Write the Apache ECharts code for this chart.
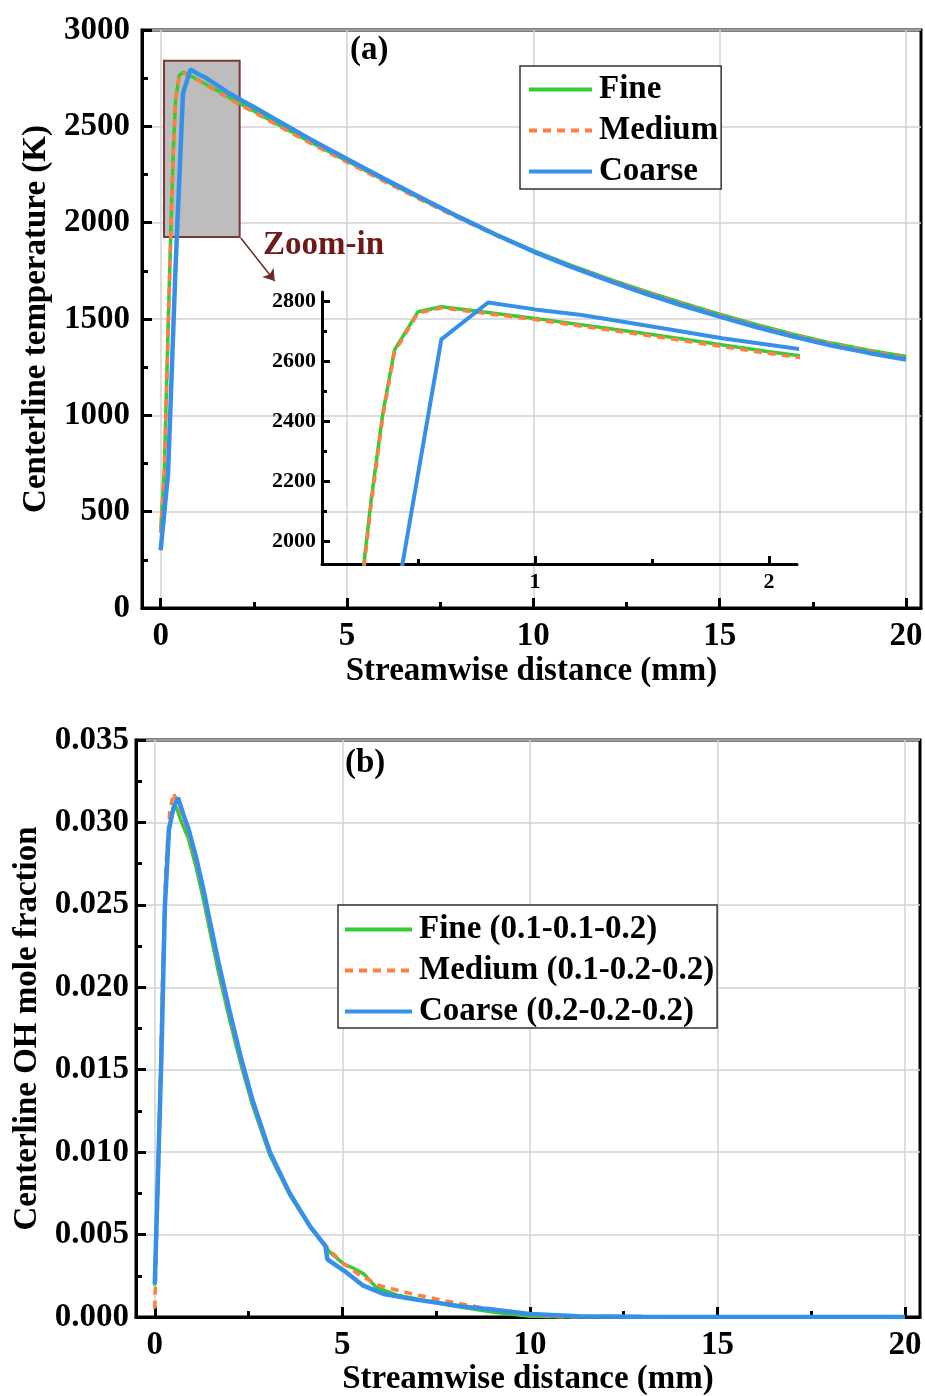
<!DOCTYPE html>
<html><head><meta charset="utf-8">
<script src="https://cdn.jsdelivr.net/npm/echarts@6/dist/echarts.min.js"></script>
<style>html,body{margin:0;padding:0;background:#fff}#c{width:925px;height:1396px}</style>
</head><body><div id="c"></div>
<script>
// ---------- data (a): centerline temperature (K) vs streamwise distance (mm)
const tempFine = [[0,400],[0.1,720],[0.2,1450],[0.3,2137],[0.35,2426],[0.4,2637],[0.5,2764],[0.6,2781],[0.8,2762],[1.0,2742],[1.5,2688],[2.0,2631],[2.5,2580],[3,2525],[4,2420],[5,2320],[6,2220],[7,2122],[8,2028],[9,1938],[10,1855],[11,1780],[12,1710],[13,1645],[14,1583],[15,1525],[16,1470],[17,1420],[18,1375],[19,1338],[20,1305]];
const tempMedium = [[0,390],[0.1,700],[0.2,1430],[0.3,2120],[0.35,2415],[0.4,2630],[0.5,2760],[0.6,2777],[0.8,2758],[1.0,2738],[1.5,2683],[2.0,2625],[2.5,2574],[3,2519],[4,2414],[5,2314],[6,2214],[7,2117],[8,2023],[9,1934],[10,1851],[11,1776],[12,1706],[13,1641],[14,1579],[15,1521],[16,1466],[17,1416],[18,1371],[19,1334],[20,1300]];
const tempCoarse = [[0,300],[0.2,700],[0.4,1770],[0.6,2672],[0.8,2795],[1.0,2772],[1.2,2753],[1.5,2715],[1.8,2676],[2.2,2632],[2.5,2600],[3,2545],[4,2435],[5,2330],[6,2228],[7,2128],[8,2030],[9,1937],[10,1850],[11,1772],[12,1700],[13,1632],[14,1570],[15,1512],[16,1457],[17,1407],[18,1362],[19,1324],[20,1290]];
// ---------- data (b): centerline OH mole fraction
const ohFine = [[0,0.0019],[0.15,0.0140],[0.25,0.0240],[0.35,0.0290],[0.45,0.0305],[0.56,0.0310],[0.7,0.0301],[0.9,0.0290],[1.1,0.0273],[1.3,0.0253],[1.47,0.0234],[1.7,0.0209],[2.0,0.0180],[2.3,0.0153],[2.6,0.0129],[3.07,0.0098],[3.6,0.0074],[4.14,0.0055],[4.68,0.0039],[5.05,0.0032],[5.26,0.0030],[5.58,0.0026],[5.9,0.0018],[6.5,0.0013],[7.9,0.0007],[9.0,0.0003],[10,0.00005],[11,0],[20,0]];
const ohMedium = [[0,0.0005],[0.1,0.0090],[0.2,0.0200],[0.3,0.0275],[0.4,0.0307],[0.5,0.0318],[0.6,0.0312],[0.75,0.0303],[0.9,0.0293],[1.1,0.0276],[1.3,0.0256],[1.47,0.0237],[1.7,0.0212],[2.0,0.0182],[2.3,0.0155],[2.6,0.0130],[3.07,0.0099],[3.6,0.0074],[4.14,0.0055],[4.68,0.0040],[5.05,0.0032],[5.5,0.0025],[6.0,0.0019],[6.85,0.0014],[7.7,0.0010],[8.65,0.0006],[9.8,0.0002],[10.5,0.00003],[11,0],[20,0]];
const ohCoarse = [[0,0.0020],[0.18,0.0160],[0.27,0.0249],[0.38,0.0296],[0.5,0.0309],[0.62,0.0315],[0.76,0.0305],[0.9,0.0296],[1.1,0.0279],[1.3,0.0259],[1.47,0.0240],[1.7,0.0215],[2.0,0.0185],[2.3,0.0157],[2.6,0.0132],[3.07,0.0100],[3.6,0.0075],[4.14,0.0055],[4.55,0.0043],[4.6,0.0035],[5.05,0.0028],[5.56,0.0019],[6.1,0.0014],[7.0,0.00104],[8.24,0.00063],[9.0,0.00045],[10,0.00018],[11.3,0.00004],[13,0.00001],[20,0]];
// ---------- labels / ticks
const namesA = ['Fine','Medium','Coarse'];
const namesB = ['Fine (0.1-0.1-0.2)','Medium (0.1-0.2-0.2)','Coarse (0.2-0.2-0.2)'];
const xMajor = [0,5,10,15,20];
const xMinor = [2.5,7.5,12.5,17.5];
const insetXMajor = [1,2];
const insetXMinor = [0.5,1.5];
const insetYMajor = [2000,2200,2400,2600,2800];
const insetYMinor = [2100,2300,2500,2700];
const zoomBox = [[0.09,1925],[2.12,2840]];
const arrowEnds = [[2.15,1920],[3.06,1697]];

const FONT = '"Liberation Serif","Times New Roman",serif';
const C_FINE = '#33cc33', C_MED = '#ff7f40', C_COARSE = '#3690ea';
const txt = (s) => ({fontFamily: FONT, fontWeight: 'bold', fontSize: s, color: '#000'});
const plain = v => String(v);

function mainX(grid, nameGap) {
  return [{
    gridIndex: grid, type: 'value', min: -0.5, max: 20.4, position: 'bottom',
    axisLine: {show: true, onZero: false, lineStyle: {color: '#000', width: 3}},
    axisTick: {show: true, inside: true, length: 10, customValues: xMajor, lineStyle: {color: '#000', width: 3}},
    axisLabel: Object.assign({customValues: xMajor, margin: 12, formatter: plain}, txt(33)),
    splitLine: {show: true, lineStyle: {color: '#d2d2d2', width: 1.5}},
    name: 'Streamwise distance (mm)', nameLocation: 'middle', nameGap: nameGap, nameTextStyle: txt(33)
  }, {
    gridIndex: grid, type: 'value', min: -0.5, max: 20.4, position: 'bottom',
    axisLine: {show: false}, axisLabel: {show: false}, splitLine: {show: false},
    axisTick: {show: true, inside: true, length: 6, customValues: xMinor, lineStyle: {color: '#000', width: 3}}
  }];
}

const xAxes = [].concat(mainX(0, 47), [
  { gridIndex: 1, type: 'value', min: 0.09, max: 2.12, position: 'bottom',
    axisLine: {show: true, onZero: false, lineStyle: {color: '#000', width: 3}},
    axisTick: {show: true, inside: true, length: 8, customValues: insetXMajor, lineStyle: {color: '#000', width: 3}},
    axisLabel: Object.assign({customValues: insetXMajor, margin: 7, formatter: plain}, txt(22)),
    splitLine: {show: false} },
  { gridIndex: 1, type: 'value', min: 0.09, max: 2.12, position: 'bottom',
    axisLine: {show: false}, axisLabel: {show: false}, splitLine: {show: false},
    axisTick: {show: true, inside: true, length: 5, customValues: insetXMinor, lineStyle: {color: '#000', width: 3}} }
], mainX(2, 42));

const yAxes = [
  { gridIndex: 0, type: 'value', min: 0, max: 3000, interval: 500, position: 'left',
    axisLine: {show: true, onZero: false, lineStyle: {color: '#000', width: 3}},
    axisTick: {show: true, inside: true, length: 10, lineStyle: {color: '#000', width: 3}},
    minorTick: {show: true, splitNumber: 2, length: 6, lineStyle: {color: '#000', width: 3}},
    axisLabel: Object.assign({margin: 12, formatter: plain}, txt(33)),
    splitLine: {show: true, lineStyle: {color: '#d2d2d2', width: 1.5}},
    name: 'Centerline temperature (K)', nameLocation: 'middle', nameGap: 77, nameRotate: 90, nameTextStyle: txt(33) },
  { gridIndex: 1, type: 'value', min: 1923, max: 2830, position: 'left',
    axisLine: {show: true, onZero: false, lineStyle: {color: '#000', width: 3}},
    axisTick: {show: true, inside: true, length: 8, customValues: insetYMajor, lineStyle: {color: '#000', width: 3}},
    axisLabel: Object.assign({customValues: insetYMajor, margin: 6, formatter: plain}, txt(22)),
    splitLine: {show: false} },
  { gridIndex: 1, type: 'value', min: 1923, max: 2830, position: 'left',
    axisLine: {show: false}, axisLabel: {show: false}, splitLine: {show: false},
    axisTick: {show: true, inside: true, length: 5, customValues: insetYMinor, lineStyle: {color: '#000', width: 3}} },
  { gridIndex: 2, type: 'value', min: 0, max: 0.035, interval: 0.005, position: 'left',
    axisLine: {show: true, onZero: false, lineStyle: {color: '#000', width: 3}},
    axisTick: {show: true, inside: true, length: 10, lineStyle: {color: '#000', width: 3}},
    minorTick: {show: true, splitNumber: 2, length: 6, lineStyle: {color: '#000', width: 3}},
    axisLabel: Object.assign({margin: 7, formatter: v => v.toFixed(3)}, txt(33)),
    splitLine: {show: true, lineStyle: {color: '#d2d2d2', width: 1.5}},
    name: 'Centerline OH mole fraction', nameLocation: 'middle', nameGap: 88, nameRotate: 90, nameTextStyle: txt(33) }
];

function lineSeries(name, data, xi, yi, color, width, dashed, z) {
  return { name: name, type: 'line', data: data, xAxisIndex: xi, yAxisIndex: yi,
    symbol: 'none', smooth: false, clip: true, z: z,
    lineStyle: {color: color, width: width, type: dashed ? [8, 6] : 'solid'},
    itemStyle: {color: color} };
}

const series = [
  { name: 'zoomBox', type: 'line', xAxisIndex: 0, yAxisIndex: 0, data: [[-1, -100]], symbol: 'none', z: 1,
    lineStyle: {width: 0}, silent: true,
    markArea: { silent: true, itemStyle: {color: '#bdbdbd', borderColor: '#7a3838', borderWidth: 2},
      data: [[{coord: zoomBox[0]}, {coord: zoomBox[1]}]] },
    markLine: { silent: true, symbol: ['none', 'arrow'], symbolSize: 11, label: {show: false},
      lineStyle: {color: '#6e2a2a', width: 1.5, type: 'solid'},
      data: [[{coord: arrowEnds[0]}, {coord: arrowEnds[1]}]] } },
  lineSeries(namesA[0], tempFine, 0, 0, C_FINE, 3.5, false, 3),
  lineSeries(namesA[1], tempMedium, 0, 0, C_MED, 3.5, true, 4),
  lineSeries(namesA[2], tempCoarse, 0, 0, C_COARSE, 4.5, false, 5),
  lineSeries(namesA[0], tempFine, 2, 1, C_FINE, 3.5, false, 3),
  lineSeries(namesA[1], tempMedium, 2, 1, C_MED, 3.5, true, 4),
  lineSeries(namesA[2], tempCoarse, 2, 1, C_COARSE, 4, false, 5),
  lineSeries(namesB[0], ohFine, 4, 3, C_FINE, 3.5, false, 3),
  lineSeries(namesB[1], ohMedium, 4, 3, C_MED, 3.5, true, 4),
  lineSeries(namesB[2], ohCoarse, 4, 3, C_COARSE, 4.5, false, 5)
];

function legend(names, left, top, iw, pad) {
  return { data: names, orient: 'vertical', left: left, top: top, itemWidth: iw, itemHeight: 14, itemGap: 8,
    padding: pad, backgroundColor: '#fff', borderColor: '#333', borderWidth: 1.5, borderRadius: 0,
    selectedMode: false,
    itemStyle: {opacity: 0, borderWidth: 0},
    lineStyle: {width: 4},
    textStyle: Object.assign({lineHeight: 33, padding: [0, 0, 0, 2]}, txt(33)) };
}

const chart = echarts.init(document.getElementById('c'), null, {renderer: 'canvas'});
chart.setOption({
  animation: false,
  backgroundColor: '#fff',
  grid: [
    {left: 142, top: 30, width: 779, height: 578, show: true, borderColor: '#000', borderWidth: 3, backgroundColor: 'transparent', outerBoundsMode: 'none', containLabel: false},
    {left: 322, top: 292, width: 475, height: 272, show: false, outerBoundsMode: 'none', containLabel: false},
    {left: 136, top: 740, width: 784, height: 577, show: true, borderColor: '#000', borderWidth: 3, backgroundColor: 'transparent', outerBoundsMode: 'none', containLabel: false}
  ],
  xAxis: xAxes,
  yAxis: yAxes,
  legend: [legend(namesA, 520, 66, 63, [7, 3, 1, 7]), legend(namesB, 338, 905, 67, [8, 3, 0, 5])],
  graphic: [
    {type: 'text', left: 350, top: 34, z: 50, style: {text: '(a)', font: 'bold 33px ' + FONT, fill: '#000'}},
    {type: 'text', left: 345, top: 747, z: 50, style: {text: '(b)', font: 'bold 33px ' + FONT, fill: '#000'}},
    {type: 'text', left: 263, top: 229, z: 50, style: {text: 'Zoom-in', font: 'bold 33px ' + FONT, fill: '#6e1a1a'}}
  ],
  series: series
});
</script></body></html>
